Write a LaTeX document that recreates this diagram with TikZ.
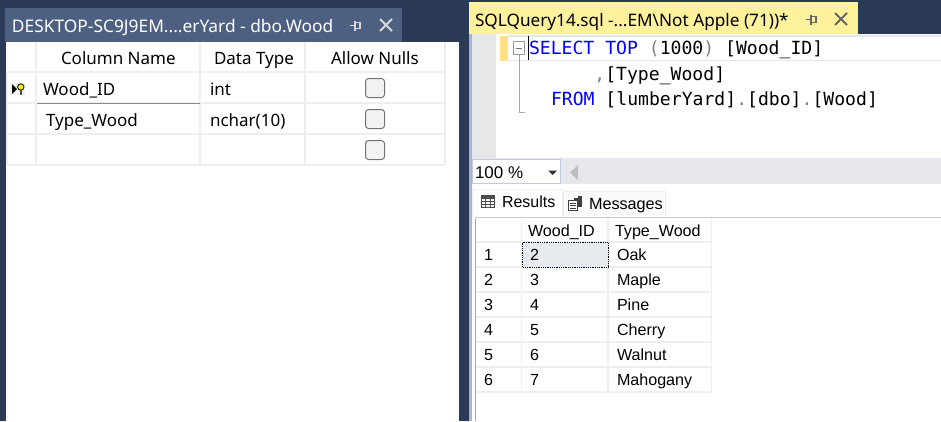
\documentclass[tikz,border=0pt]{standalone}
\usepackage{fontspec}
\setmainfont{Noto Sans}
\newfontfamily\gridfont{Liberation Sans}
\newfontfamily\codefont{DejaVu Sans Mono}
\definecolor{framedark}{HTML}{2B3A57}
\definecolor{tabblue}{HTML}{4D6082}
\definecolor{tabyellow}{HTML}{FFF29D}
\definecolor{gridline}{HTML}{EEEEEE}
\definecolor{marginGrey}{HTML}{E6E7E8}
\definecolor{barGrey}{HTML}{E6E7ED}
\definecolor{lilac}{HTML}{A9B3D3}
\definecolor{kw}{HTML}{0000FF}
\definecolor{punct}{HTML}{808080}
\definecolor{selcell}{HTML}{E6EBEF}
\definecolor{ink}{HTML}{000000}
\tikzset{
  x=1pt,y=-1pt,
  lbl/.style={anchor=base west,inner sep=0pt,outer sep=0pt,text=ink},
  ui/.style={lbl,font=\fontsize{17}{20}\selectfont},
  grid/.style={lbl,font=\gridfont\fontsize{16.1}{18}\selectfont},
  code/.style={lbl,font=\codefont\fontsize{18.1}{20}\selectfont},
  gl/.style={draw=gridline,line width=1.2pt},
  chk/.style={draw=black!55,fill=black!5,line width=1pt,rounded corners=3pt},
}
\begin{document}
\begin{tikzpicture}
\useasboundingbox (0,0) rectangle (941,421);
% frame
\fill[framedark] (0,0) rectangle (941,421);
% left panel
\fill[white] (6,42) rectangle (459,421);
\fill[tabblue] (5,8) rectangle (402,42);
\node[lbl,text=white,font=\fontsize{17.35}{22}\selectfont] (lefttitle) at (12,32) {DESKTOP-SC9J9EM....erYard - dbo.Wood};
% pin + close left
\draw[white!85!black,line width=1.3pt] (350,25.5) -- (355,25.5) (355,22.5) rectangle (360,28.5) (355,20.5) -- (355,30.5);
\draw[white!85!black,line width=2pt] (380,19) -- (392,31) (392,19) -- (380,31);
% left table lines
\draw[gl] (36,42) -- (36,165) (200,42) -- (200,165) (305,42) -- (305,165) (445,42) -- (445,165);
\draw[gl] (7,72) -- (445,72) (7,103) -- (445,103) (7,134) -- (445,134) (7,165) -- (445,165);
\draw[gl] (7,72) -- (7,165);
\draw[black!45,line width=1pt] (37,103.5) -- (200,103.5);
% left headers
\node[ui] (hcol) at (61,64) {Column Name};
\node[ui] (htype) at (214,64) {Data Type};
\node[ui] (hnull) at (331,64) {Allow Nulls};
\node[ui] (woodid) at (43,95) {Wood\_ID};
\node[ui] (typewood) at (46,126) {Type\_Wood};
\node[ui] (tint) at (210,95) {int};
\node[ui] (tnchar) at (210,126) {nchar(10)};
\draw[chk] (365.5,78.5) rectangle (384.5,97.5);
\draw[chk] (365.5,109.5) rectangle (384.5,128.5);
\draw[chk] (365.5,140.5) rectangle (384.5,159.5);
% key icon
\fill[black!6] (10,83) rectangle (25,95);
\fill[black] (12,84) -- (17,89) -- (12,94) -- cycle;
\draw[black,fill=yellow,line width=.8pt] (20.8,87) circle (3.2);
\draw[black!80!yellow,line width=1.8pt] (20.8,90) -- (20.8,94.5);
% right panel
\fill[lilac] (469,34) rectangle (472,421);
\fill[white] (472,34) rectangle (941,421);
\fill[marginGrey] (472,34) rectangle (496,158);
\fill[tabyellow] (469,2) rectangle (858,34);
\node[lbl,font=\fontsize{17.2}{22}\selectfont] (righttitle) at (475,26) {SQLQuery14.sql -...EM\textbackslash Not Apple (71))*};
% pin + close right
\draw[black!60,line width=1.3pt] (806,19.5) -- (811,19.5) (811,16.5) rectangle (816,22.5) (811,14.5) -- (811,24.5);
\draw[black!60,line width=2pt] (835,13) -- (847,25) (847,13) -- (835,25);
% current line highlight
\fill[tabyellow!85!orange] (500,36) rectangle (508,61);
\draw[barGrey,line width=1.5pt] (508,36) -- (941,36) (508,60.5) -- (941,60.5);
% outline fold
\draw[black!40,line width=1pt] (513,41.5) rectangle (524,54.5);
\draw[black!55,line width=1pt] (515.5,48) -- (521.5,48);
\draw[black!35,line width=1pt] (519,55) -- (519,112) -- (525,112);
\draw[black,line width=1pt] (528.5,36) -- (528.5,60);
% code
\node[code] (line1) at (529,54) {\textcolor{kw}{SELECT TOP} \textcolor{punct}{(}1000\textcolor{punct}{)} [Wood\_ID]};
\node[code] (line2) at (594.4,80) {\textcolor{punct}{,}[Type\_Wood]};
\node[code] (line3) at (551,105) {\textcolor{kw}{FROM} [lumberYard]\textcolor{punct}{.}[dbo]\textcolor{punct}{.}[Wood]};
% zoom bar
\fill[barGrey] (472,158) rectangle (941,184);
\draw[fill=white,draw=lilac!70,line width=1pt] (472.5,159) rectangle (560,183);
\node[lbl,font=\gridfont\fontsize{17}{19}\selectfont] (zoomlbl) at (475,178) {100 \%};
\fill[black!80] (548,170.5) -- (557,170.5) -- (552.5,175) -- cycle;
\fill[black!25] (578,165) -- (578,180) -- (570,172.5) -- cycle;
% tabs strip
\fill[white] (472,184) rectangle (941,217);
\draw[draw=gridline,fill=white,line width=1pt] (472,217) -- (472,189) -- (562,189) -- (562,217);
\draw[draw=gridline,fill=black!2,line width=1pt] (563,216) -- (563,191) -- (665,191) -- (665,216);
\node[lbl,font=\gridfont\fontsize{16}{18}\selectfont] (resultsTab) at (502,207) {Results};
\node[lbl,font=\gridfont\fontsize{16.2}{18}\selectfont] (messagesTab) at (589,209) {Messages};
% table icon
\draw[black!70,line width=.9pt] (481.5,195.5) rectangle (494,207.5);
\fill[black!70] (481.5,195.5) rectangle (494,198.5);
\draw[black!70,line width=.7pt] (481.5,201.5) -- (494,201.5) (481.5,204.5) -- (494,204.5) (485.5,198) -- (485.5,207.5) (490,198) -- (490,207.5);
% messages icon
\draw[black!75,fill=white,line width=.9pt] (568.5,200.5) rectangle (577,210.5);
\draw[black!75,line width=.7pt] (570,203) -- (575.5,203) (570,205.5) -- (575.5,205.5) (570,208) -- (575.5,208);
\fill[black!75] (578,196) rectangle (582,207);
\fill[black!75] (574,198) rectangle (578,200);
% results grid
\draw[black!20,line width=1pt] (475.5,217.5) -- (941,217.5);
\draw[black!35,line width=1pt] (475.5,217.5) -- (475.5,421);
\draw[gl] (521.5,218) -- (521.5,392) (608,218) -- (608,392) (711.5,218) -- (711.5,392);
\draw[gl] (476,242) -- (711.5,242) (476,267) -- (711.5,267) (476,292) -- (711.5,292) (476,317) -- (711.5,317) (476,342) -- (711.5,342) (476,367) -- (711.5,367) (476,392) -- (711.5,392);
\draw[fill=selcell,draw=black,densely dotted,line width=.8pt] (522.5,242.5) rectangle (608,267);
\node[grid] (colid) at (528,236) {Wood\_ID};
\node[grid] (coltype) at (615,236) {Type\_Wood};
\node[grid] (r1) at (484,260.5) {1};
\node[grid] (a1) at (530,260) {2};
\node[grid] (b1) at (617,260) {Oak};
\node[grid] (r2) at (484,285.5) {2};
\node[grid] (a2) at (530,285) {3};
\node[grid] (b2) at (617,285) {Maple};
\node[grid] (r3) at (484,310.5) {3};
\node[grid] (a3) at (530,310) {4};
\node[grid] (b3) at (617,310) {Pine};
\node[grid] (r4) at (484,335.5) {4};
\node[grid] (a4) at (530,335) {5};
\node[grid] (b4) at (617,335) {Cherry};
\node[grid] (r5) at (484,360.5) {5};
\node[grid] (a5) at (530,360) {6};
\node[grid] (b5) at (617,360) {Walnut};
\node[grid] (r6) at (484,385.5) {6};
\node[grid] (a6) at (530,385) {7};
\node[grid] (b6) at (617,385) {Mahogany};
\end{tikzpicture}
\end{document}
